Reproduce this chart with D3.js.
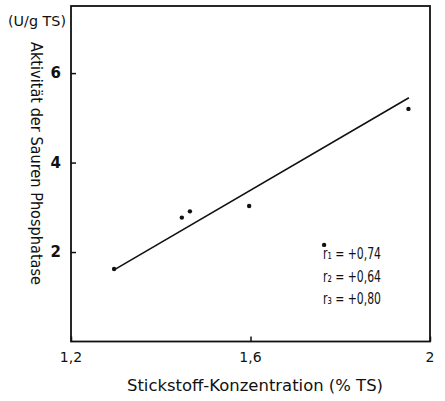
<!DOCTYPE html>
<html><head><meta charset="utf-8">
<script src="https://cdn.jsdelivr.net/npm/d3@7"></script>
<style>body{margin:0;background:#fff}text{font-family:"DejaVu Sans","Liberation Sans",Arial,sans-serif;fill:#111}</style>
</head><body>
<svg id="c" width="445" height="401"></svg>
<script>
const xTicks = [1.2, 1.6, 2.0];
const xTickLabels = ["1,2", "1,6", "2"];
const yTicks = [2, 4, 6];
const yTickLabels = ["2", "4", "6"];
const pointsX = [1.296, 1.447, 1.465, 1.597, 1.764, 1.952];
const pointsY = [1.62, 2.77, 2.91, 3.03, 2.16, 5.20];
const lineX = [1.296, 1.953];
const lineY = [1.60, 5.45];
const rLabels = ["r\u2081 = +0,74", "r\u2082 = +0,64", "r\u2083 = +0,80"];
const xTitle = "Stickstoff-Konzentration (% TS)";
const yTitle = "Aktivität der Sauren Phosphatase";
const yUnit = "(U/g TS)";

const svg = d3.select("#c");
const L = 71, R = 430, T = 6, B = 341.5;
const x = d3.scaleLinear().domain([1.2, 2.0]).range([L, R]);
const y = d3.scaleLinear().domain([0, 7.5]).range([B, T]);

// frame
svg.append("rect").attr("x", L).attr("y", T).attr("width", R - L).attr("height", B - T)
  .attr("fill", "none").attr("stroke", "#111").attr("stroke-width", 1.8);

// y axis ticks (inward)
const ya = svg.append("g").attr("transform", `translate(${L},0)`)
  .call(d3.axisRight(y).tickValues(yTicks).tickSize(5).tickFormat(""));
ya.select(".domain").remove();
ya.selectAll("line").attr("stroke", "#111").attr("stroke-width", 1.5);
yTicks.forEach((v, i) => {
  svg.append("text").attr("x", 61).attr("y", y(v) + 5).attr("text-anchor", "end")
    .attr("font-size", 15).attr("font-weight", "bold").text(yTickLabels[i]);
});

// x axis ticks (inward)
const xa = svg.append("g").attr("transform", `translate(0,${B})`)
  .call(d3.axisTop(x).tickValues(xTicks).tickSize(5).tickFormat(""));
xa.select(".domain").remove();
xa.selectAll("line").attr("stroke", "#111").attr("stroke-width", 1.5);
xTicks.forEach((v, i) => {
  svg.append("text").attr("x", x(v)).attr("y", 362).attr("text-anchor", "middle")
    .attr("font-size", 14).text(xTickLabels[i]);
});

// titles
svg.append("text").attr("x", 127).attr("y", 391)
  .attr("font-size", 15).attr("textLength", 256).attr("lengthAdjust", "spacingAndGlyphs").text(xTitle);
svg.append("text").attr("transform", "translate(31,42) rotate(90)")
  .attr("font-size", 15).attr("textLength", 243).attr("lengthAdjust", "spacingAndGlyphs").text(yTitle);
svg.append("text").attr("x", 66).attr("y", 26).attr("text-anchor", "end")
  .attr("font-size", 14).attr("textLength", 58).attr("lengthAdjust", "spacingAndGlyphs").text(yUnit);

// regression line
svg.append("line").attr("x1", x(lineX[0])).attr("y1", y(lineY[0]))
  .attr("x2", x(lineX[1])).attr("y2", y(lineY[1]))
  .attr("stroke", "#111").attr("stroke-width", 1.6);

// points
svg.selectAll("circle.p").data(pointsX.map((v, i) => [v, pointsY[i]])).enter()
  .append("circle").attr("cx", d => x(d[0])).attr("cy", d => y(d[1])).attr("r", 2.2).attr("fill", "#111");

// r labels
rLabels.forEach((r, i) => {
  svg.append("text").attr("x", 323).attr("y", 259 + i * 22.5).attr("font-size", 15)
    .attr("textLength", 58).attr("lengthAdjust", "spacingAndGlyphs").text(r);
});
</script>
</body></html>
